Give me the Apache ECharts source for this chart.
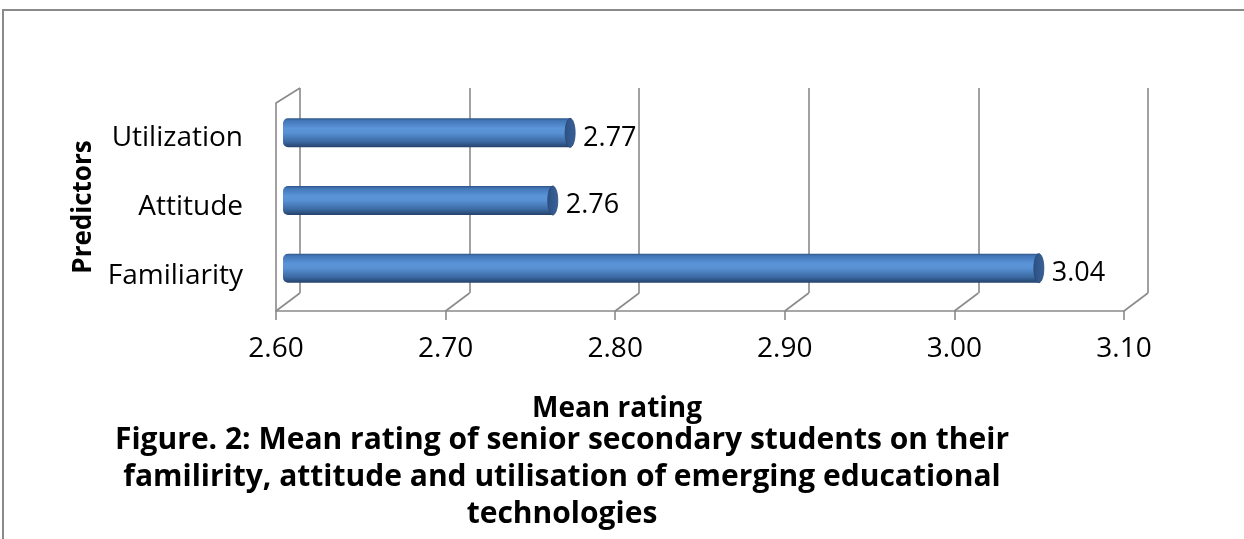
<!DOCTYPE html>
<html>
<head>
<meta charset="utf-8">
<script src="https://cdn.jsdelivr.net/npm/echarts@6/dist/echarts.min.js"></script>
<style>html,body{margin:0;padding:0;background:#fff}#c{width:1244px;height:539px}</style>
</head>
<body>
<div id="c"></div>
<script>
const categories = ['Familiarity', 'Attitude', 'Utilization'];
const meanRating = [3.04, 2.76, 2.77];
const xTicks = [2.60, 2.70, 2.80, 2.90, 3.00, 3.10];
const xMin = 2.6, xMax = 3.1, xStep = 0.1;
const titleLines = ['Figure. 2: Mean rating of senior secondary students on their',
  'familirity, attitude and utilisation of emerging educational', 'technologies'];
const xName = 'Mean rating';
const yName = 'Predictors';

const FONT = '"Open Sans", "Noto Sans", sans-serif';
const GRAY = '#8a8a8a';

const chart = echarts.init(document.getElementById('c'), null, {renderer: 'canvas'});

function renderBar(params, api) {
  const cat = api.value(0);
  const val = api.value(1);
  const p0 = api.coord([xMin, cat]);
  const p1 = api.coord([val, cat]);
  const h = 29;
  const x0 = p0[0] + 3, x1 = p1[0];
  const yTop = p0[1] - h / 2;
  const body = new echarts.graphic.LinearGradient(0, 0, 0, 1, [
    {offset: 0, color: '#2e5587'},
    {offset: 0.08, color: '#4276b8'},
    {offset: 0.35, color: '#5b95d8'},
    {offset: 0.5, color: '#5891d3'},
    {offset: 0.8, color: '#3c6aa4'},
    {offset: 1, color: '#24426a'}
  ]);
  const cap = new echarts.graphic.LinearGradient(0, 0, 1, 0, [
    {offset: 0, color: '#2c5082'},
    {offset: 1, color: '#39629a'}
  ]);
  return {
    type: 'group',
    children: [
      {type: 'rect', shape: {x: x0, y: yTop, width: x1 - x0 - 4, height: h, r: [5, 0, 0, 5]},
        style: {fill: body}},
      {type: 'ellipse', shape: {cx: x1 - 5, cy: p0[1], rx: 5, ry: h / 2},
        style: {fill: cap, stroke: '#284873', lineWidth: 0.8}},
      {type: 'text', style: {text: val.toFixed(2), x: x1 + 8, y: p0[1] + 5,
        align: 'left', verticalAlign: 'middle', fill: '#000', font: '27px ' + FONT}}
    ]
  };
}

function renderFloor(params, api) {
  const v = api.value(0);
  const cs = params.coordSys;
  const x = api.coord([v, 0])[0];
  const yb = cs.y + cs.height;
  const children = [
    {type: 'line', shape: {x1: x, y1: yb, x2: x + 24, y2: yb - 18},
      style: {stroke: GRAY, lineWidth: 1.6}}
  ];
  if (params.dataIndex === 0) {
    children.push({type: 'line', shape: {x1: x, y1: cs.y, x2: x + 24, y2: cs.y - 15},
      style: {stroke: GRAY, lineWidth: 1.6}});
  }
  return {type: 'group', children};
}

const option = {
  backgroundColor: '#fff',
  animation: false,
  grid: [
    {left: 300, right: 96, top: 88, bottom: 246},
    {left: 276, right: 120, top: 103, bottom: 228},
    {left: 280, right: 96, top: 99, bottom: 237}
  ],
  xAxis: [
    {gridIndex: 0, type: 'value', min: xMin, max: xMax, interval: xStep,
      axisLine: {show: false}, axisTick: {show: false}, axisLabel: {show: false},
      splitLine: {show: true, lineStyle: {color: GRAY, width: 1.6}}},
    {gridIndex: 1, type: 'value', min: xMin, max: xMax, interval: xStep,
      axisLine: {show: true, lineStyle: {color: GRAY, width: 1.6}},
      axisTick: {show: true, length: 9, lineStyle: {color: GRAY, width: 1.6}},
      axisLabel: {show: true, margin: 24, color: '#000', fontSize: 28, fontFamily: FONT,
        formatter: v => v.toFixed(2)},
      splitLine: {show: false}},
    {gridIndex: 2, type: 'value', min: xMin, max: xMax, interval: xStep, show: false}
  ],
  yAxis: [
    {gridIndex: 0, type: 'category', data: categories, show: false},
    {gridIndex: 1, type: 'category', data: categories,
      axisLine: {show: true, lineStyle: {color: GRAY, width: 1.6}},
      axisTick: {show: false},
      axisLabel: {margin: 33, color: '#000', fontSize: 28, fontFamily: FONT},
      name: yName, nameLocation: 'middle', nameGap: 176,
      nameTextStyle: {color: '#000', fontSize: 26, fontWeight: 'bold', fontFamily: FONT}},
    {gridIndex: 2, type: 'category', data: categories, show: false}
  ],
  series: [
    {type: 'custom', xAxisIndex: 1, yAxisIndex: 1, renderItem: renderFloor,
      data: xTicks.map(v => [v]), encode: {x: 0}, silent: true, clip: false, z: 1},
    {type: 'custom', xAxisIndex: 2, yAxisIndex: 2, renderItem: renderBar,
      data: categories.map((c, i) => [i, meanRating[i]]),
      encode: {x: 1, y: 0}, clip: false, z: 5}
  ],
  graphic: [
    {type: 'rect', shape: {x: 3, y: 10, width: 1400, height: 700},
      style: {fill: 'none', stroke: GRAY, lineWidth: 2}, z: -1, silent: true},
    {type: 'text', x: 532, y: 409, style: {text: xName, align: 'left', verticalAlign: 'middle',
      fill: '#000', font: 'bold 28px ' + FONT}, z: 10},
    {type: 'text', x: 562, y: 440, style: {text: titleLines[0], align: 'center', verticalAlign: 'middle',
      fill: '#000', font: 'bold 30px ' + FONT}, z: 11},
    {type: 'text', x: 562, y: 477, style: {text: titleLines[1], align: 'center', verticalAlign: 'middle',
      fill: '#000', font: 'bold 30px ' + FONT}, z: 11},
    {type: 'text', x: 562, y: 514, style: {text: titleLines[2], align: 'center', verticalAlign: 'middle',
      fill: '#000', font: 'bold 30px ' + FONT}, z: 11}
  ]
};
chart.setOption(option);
</script>
</body>
</html>
